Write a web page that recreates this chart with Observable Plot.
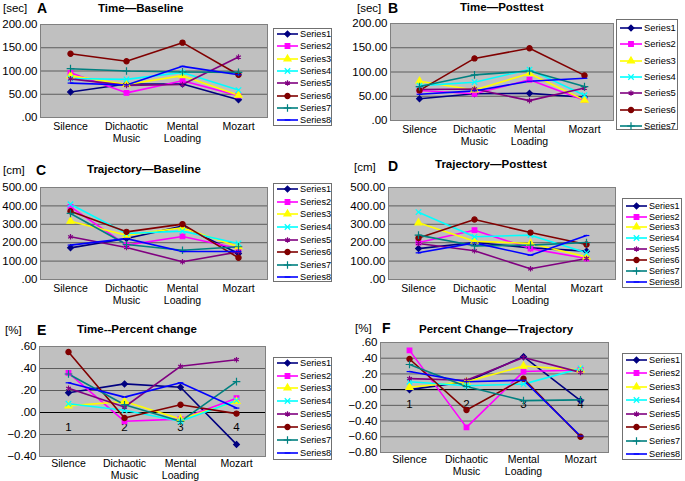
<!DOCTYPE html>
<html><head><meta charset="utf-8">
<script src="https://cdn.jsdelivr.net/npm/d3@7"></script>
<script src="https://cdn.jsdelivr.net/npm/@observablehq/plot@0.6"></script>
<style>
body{margin:0;background:#fff;font-family:"Liberation Sans",Arial,sans-serif;}
#root{position:relative;width:685px;height:481px;overflow:hidden;background:#fff;}
.lbl{position:absolute;white-space:nowrap;height:16px;line-height:16px;color:#000;}
.legend{position:absolute;background:#fff;border:1px solid #707070;box-sizing:border-box;}
.legend .row{position:absolute;left:0;height:12px;line-height:12px;white-space:nowrap;}
</style></head><body><div id="root"></div>
<script>
// ---------- data ----------
const categories = ["Silence", "Dichaotic Music", "Mental Loading", "Mozart"];
const axisNumbers = ["1", "2", "3", "4"];
const seriesNames = ["Series1", "Series2", "Series3", "Series4", "Series5", "Series6", "Series7", "Series8"];

const timeBaseline = [
  [55, 72, 72, 38],
  [96, 53, 79, 47],
  [90, 71, 90, 48],
  [84, 82, 97, 59],
  [83, 69, 71, 130],
  [137, 121, 161, 92],
  [105, 100, 98, 97],
  [74, 70, 110, 92]
];
const timePosttest = [
  [45, 55, 56, 48],
  [62, 55, 84, 42],
  [81, 63, 97, 42],
  [72, 79, 105, 52],
  [64, 65, 41, 67],
  [62, 128, 149, 93],
  [70, 94, 102, 70],
  [54, 61, 81, 87]
];
const trajBaseline = [
  [172, 223, 290, 141],
  [395, 187, 234, 168],
  [317, 241, 281, 178],
  [409, 250, 263, 196],
  [232, 174, 96, 150],
  [371, 259, 301, 118],
  [359, 190, 159, 178],
  [187, 222, 152, 152]
];
const trajPosttest = [
  [168, 201, 172, 154],
  [201, 268, 168, 114],
  [308, 208, 196, 123],
  [366, 232, 241, 145],
  [196, 156, 58, 114],
  [226, 326, 255, 190],
  [241, 183, 187, 201],
  [145, 199, 132, 239]
];
const timeChange = [
  [0.18, 0.26, 0.23, -0.29],
  [0.36, -0.08, -0.06, 0.13],
  [0.06, 0.10, -0.06, 0.10],
  [0.08, 0.02, -0.08, 0.11],
  [0.22, 0.05, 0.42, 0.48],
  [0.55, -0.05, 0.07, -0.01],
  [0.35, 0.07, -0.08, 0.28],
  [0.27, 0.14, 0.27, 0.04]
];
const trajChange = [
  [0.00, 0.10, 0.42, -0.14],
  [0.50, -0.48, 0.23, 0.25],
  [0.03, 0.10, 0.30, 0.25],
  [0.10, 0.05, 0.07, 0.27],
  [0.14, 0.12, 0.41, 0.22],
  [0.39, -0.26, 0.14, -0.60],
  [0.32, 0.04, -0.14, -0.13],
  [0.23, 0.10, 0.12, -0.59]
];
const ticksTime = [0, 50, 100, 150, 200];
const ticksTraj = [0, 100, 200, 300, 400, 500];
const ticksE = [-0.4, -0.2, 0, 0.2, 0.4, 0.6];
const ticksF = [-0.8, -0.6, -0.4, -0.2, 0, 0.2, 0.4, 0.6];

// ---------- styles ----------
const seriesColors = ["#000080", "#ff00ff", "#ffff00", "#00ffff", "#800080", "#800000", "#008080", "#0000ff"];
const dashSymbol = {draw(ctx, size) { const r = Math.sqrt(size / Math.PI) * 1.1; ctx.moveTo(-r, 0); ctx.lineTo(r, 0); }};
const seriesSymbols = [d3.symbolDiamond2, d3.symbolSquare, d3.symbolTriangle, d3.symbolTimes, d3.symbolAsterisk, d3.symbolCircle, d3.symbolPlus, dashSymbol];
const markR = 2.6;
const root = document.getElementById("root");
const fmt = v => d3.format(".2f")(v).replace(/^(-?)0\./, "$1.");

function label(text, x, cy, css) {
  const d = document.createElement("div");
  d.className = "lbl";
  d.textContent = text;
  d.style.left = x + "px";
  d.style.top = (cy - 8) + "px";
  Object.assign(d.style, css || {});
  root.appendChild(d);
}

function legend(cfg) {
  const box = document.createElement("div");
  box.className = "legend";
  Object.assign(box.style, {left: cfg.x + "px", top: cfg.y + "px", width: cfg.w + "px", height: cfg.h + "px"});
  for (let i = 0; i < cfg.n; i++) {
    const row = document.createElement("div");
    row.className = "row";
    row.style.top = (cfg.first + i * cfg.step - 6 - 1) + "px";
    const lw = cfg.lineW;
    const svg = d3.create("svg").attr("width", lw + 2).attr("height", 12)
      .style("position", "absolute").style("left", cfg.lineX + "px").style("top", "0px");
    svg.append("line").attr("x1", 0).attr("x2", lw).attr("y1", 6).attr("y2", 6)
      .attr("stroke", seriesColors[i]).attr("stroke-width", 1.6);
    svg.append("path").attr("transform", `translate(${lw / 2},6)`)
      .attr("d", d3.symbol().type(seriesSymbols[i]).size(Math.PI * markR * markR)())
      .attr("fill", seriesColors[i]).attr("stroke", seriesColors[i]).attr("stroke-width", 1.2);
    row.appendChild(svg.node());
    const t = document.createElement("span");
    t.textContent = seriesNames[i];
    Object.assign(t.style, {position: "absolute", left: (cfg.lineX + lw + 2) + "px", top: "0px", fontSize: cfg.fontSize + "px"});
    row.appendChild(t);
    box.appendChild(row);
  }
  root.appendChild(box);
}

function panel(cfg) {
  const rows = cfg.values.flatMap((vals, si) =>
    vals.map((v, ci) => ({series: seriesNames[si], cat: categories[ci], value: v})));
  const [L, R, T, B] = cfg.box;
  const mL = cfg.mL, mT = 6, mR = 4, mB = 30;
  const marks = [
    Plot.frame({fill: "#c0c0c0", stroke: "none"}),
    Plot.ruleY(cfg.ticks, {stroke: "#5c5c5c", strokeWidth: 1}),
  ];
  if (cfg.zero) {
    marks.push(Plot.ruleY([0], {stroke: "#000", strokeWidth: 1}));
    marks.push(Plot.text(axisNumbers, {x: (d, i) => categories[i], y: () => 0, text: d => d, dy: 15, fontSize: 11.5, fill: "#000"}));
  }
  marks.push(
    Plot.axisY({ticks: cfg.ticks, tickFormat: fmt, tickSize: 0, tickPadding: 3, fontSize: 11.5, fill: "#000", label: null}),
    Plot.axisX({tickSize: 0, tickPadding: cfg.xPad, tickFormat: d => d.replace(" ", "\n"), fontSize: 10.5, lineHeight: 1.12, fill: "#000", label: null}),
    Plot.line(rows, {x: "cat", y: "value", z: "series", stroke: "series", strokeWidth: 1.6}),
    Plot.dot(rows, {x: "cat", y: "value", symbol: "series", fill: "series", stroke: "series", r: markR, strokeWidth: 1.2}),
    Plot.frame({stroke: "#808080", fill: "none"})
  );
  const svg = Plot.plot({
    width: mL + (R - L) + mR,
    height: mT + (B - T) + mB,
    marginLeft: mL, marginRight: mR, marginTop: mT, marginBottom: mB,
    x: {type: "point", domain: categories, padding: 0.5},
    y: {domain: cfg.domain},
    color: {domain: seriesNames, range: seriesColors},
    symbol: {domain: seriesNames, range: seriesSymbols},
    style: {background: "transparent", overflow: "visible", fontFamily: '"Liberation Sans",Arial,sans-serif', color: "#000"},
    marks
  });
  svg.style.position = "absolute";
  svg.style.left = (L - mL) + "px";
  svg.style.top = (T - mT) + "px";
  root.appendChild(svg);

  const h = cfg.head;
  label(h.unit[0], h.unit[1], h.unit[2], {fontSize: "11.5px"});
  label(h.letter[0], h.letter[1], h.letter[2], {fontWeight: "bold", fontSize: "14px"});
  label(h.title[0], h.title[1], h.title[2], {fontWeight: "bold", fontSize: "11.5px"});
  legend(cfg.legend);
}

panel({values: timeBaseline, box: [40, 267, 24, 117], mL: 40, domain: [0, 200], ticks: ticksTime, xPad: 4,
  head: {unit: ["[sec]", 3, 8], letter: ["A", 37, 8], title: ["Time\u2014Baseline", 98, 8]},
  legend: {x: 273, y: 28, w: 59, h: 98, n: 8, first: 6, step: 12.3, lineX: 3, lineW: 21, fontSize: 9.2}});
panel({values: timePosttest, box: [390, 613, 23, 120], mL: 50, domain: [0, 200], ticks: ticksTime, xPad: 4,
  head: {unit: ["[sec]", 357, 8], letter: ["B", 388, 8], title: ["Time\u2014Posttest", 460, 7]},
  legend: {x: 616, y: 19, w: 62, h: 111, n: 7, first: 9, step: 16.3, lineX: 3, lineW: 22, fontSize: 9.4}});
panel({values: trajBaseline, box: [40, 267, 187, 279], mL: 40, domain: [0, 500], ticks: ticksTraj, xPad: 4,
  head: {unit: ["[cm]", 3, 170], letter: ["C", 36, 170], title: ["Trajectory\u2014Baseline", 87, 169]},
  legend: {x: 273, y: 183, w: 59, h: 99, n: 8, first: 6.3, step: 12.57, lineX: 3, lineW: 21, fontSize: 9.2}});
panel({values: trajPosttest, box: [388, 615, 187, 279], mL: 50, domain: [0, 500], ticks: ticksTraj, xPad: 4,
  head: {unit: ["[cm]", 354, 167], letter: ["D", 388, 166], title: ["Trajectory\u2014Posttest", 435, 164]},
  legend: {x: 622, y: 198, w: 60, h: 90, n: 8, first: 7.7, step: 10.86, lineX: 3, lineW: 21, fontSize: 9}});
panel({values: timeChange, box: [39, 265, 346, 456], mL: 39, domain: [-0.4, 0.6], ticks: ticksE, xPad: 2, zero: true,
  head: {unit: ["[%]", 5, 330], letter: ["E", 37, 330], title: ["Time--Percent change", 77, 329]},
  legend: {x: 273, y: 357, w: 59, h: 103, n: 8, first: 5.7, step: 12.86, lineX: 3, lineW: 21, fontSize: 9.2}});
panel({values: trajChange, box: [380, 608, 342, 452], mL: 40, domain: [-0.8, 0.6], ticks: ticksF, xPad: 2, zero: true,
  head: {unit: ["[%]", 355, 328], letter: ["F", 382, 328], title: ["Percent Change\u2014Trajectory", 419, 329]},
  legend: {x: 622, y: 353, w: 60, h: 107, n: 8, first: 7, step: 13.47, lineX: 3, lineW: 21, fontSize: 9.2}});
</script>
</body></html>
